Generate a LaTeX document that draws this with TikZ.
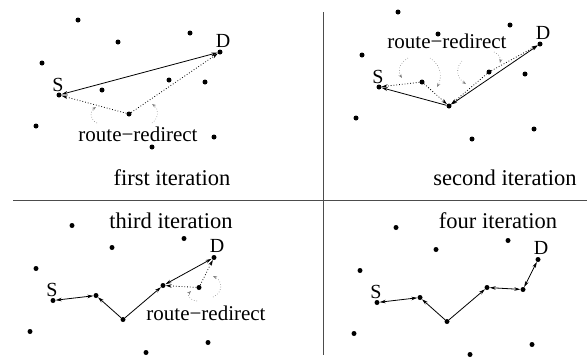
\documentclass[tikz,border=0pt]{standalone}
\usepackage{fontspec}
\setmainfont{Liberation Serif}
\usetikzlibrary{arrows.meta,positioning}

\tikzset{
  >={Stealth[length=6pt,width=3.5pt]},
  dot/.style={circle, fill=black, inner sep=0pt, minimum size=5pt},
  link/.style={line width=0.8pt},
  redir/.style={line width=0.8pt, dotted},
  hint/.style={gray, line width=0.6pt, dotted, -{Stealth[length=4pt,width=3pt]}},
  lbl/.style={inner sep=0pt, anchor=base, font=\fontsize{20}{24}\selectfont},
  ttl/.style={inner sep=0pt, anchor=base, font=\fontsize{22.5}{27}\selectfont},
  rr/.style={inner sep=0pt, anchor=base, font=\fontsize{21}{25}\selectfont}
}

% same node field in every panel
\newcommand{\network}[1]{%
  \foreach \n/\x/\y in {a1/78/20, a2/118/42, a3/190/33, D/220/52, a4/42/63,
      S/59/95, a5/102/90, a6/169/80, a7/205/82, a8/129/114, a9/36/126,
      a10/214/137, a11/152/147}
    \node[dot] (#1-\n) at (\x,\y) {};
  \node[lbl] (#1-St) at ([xshift=-1pt,yshift=4pt]#1-S.center) {S};
  \node[lbl] (#1-Dt) at ([xshift=3pt,yshift=5pt]#1-D.center) {D};
}

\begin{document}
\begin{tikzpicture}[x=1pt,y=-1pt]
\useasboundingbox (0,0) rectangle (587,360);
% separators
\draw[line width=0.8pt, black!70] (13,200) -- (587,200);
\draw[line width=0.8pt, black!70] (323,12) -- (323,355);

% first iteration
\begin{scope}
  \network{p1}
\end{scope}
\draw[link, <->] (p1-S) -- (p1-D);
\draw[redir, ->] (p1-a8) -- (p1-S);
\draw[redir, ->] (p1-a8) -- (p1-D);
\node[rr] (p1-rr) at (138,141.5) {route−redirect};
\draw[hint] (97,123) .. controls (89,119) and (90,111) .. (96,107);
\draw[hint] (152,123) .. controls (159,118) and (159,109) .. (152,104);
\node[ttl] (p1-title) at (172,185) {first iteration};

% second iteration
\begin{scope}[shift={(320,-8)}]
  \network{p2}
\end{scope}
\draw[link, ->] (p2-a8) -- (p2-S);
\draw[link, <->] (p2-a8) -- (p2-D);
\draw[redir, ->] (p2-a5) -- (p2-S);
\draw[redir, ->] (p2-a5) -- (p2-a8);
\draw[redir, ->] (p2-a6) -- (p2-a8);
\draw[redir, ->] (p2-a6) -- (p2-D);
\node[rr] (p2-rr) at (447,48) {route−redirect};
\draw[hint] (408,58) .. controls (398,64) and (398,72) .. (402,78);
\draw[hint] (430,58) .. controls (442,66) and (442,78) .. (437,87);
\draw[hint] (462,61) .. controls (455,68) and (457,78) .. (466,84);
\draw[hint] (494,52) .. controls (499,54) and (501,58) .. (500,63);
\node[ttl] (p2-title) at (505,185) {second iteration};

% third iteration
\begin{scope}[shift={(-6,205.5)}]
  \network{p3}
\end{scope}
\draw[link, <->] (p3-S) -- (p3-a5);
\draw[link, ->] (p3-a8) -- (p3-a5);
\draw[link, ->] (p3-a8) -- (p3-a6);
\draw[link, <->] (p3-a6) -- (p3-D);
\draw[redir, ->] (p3-a7) -- (p3-a6);
\draw[redir, ->] (p3-a7) -- (p3-D);
\node[rr] (p3-rr) at (206,320) {route−redirect};
\draw[hint] (197,301) .. controls (189,300) and (187,295) .. (191,291);
\draw[hint] (213,297) .. controls (223,293) and (223,281) .. (213,276);
\node[ttl] (p3-title) at (171,228) {third iteration};

% four iteration
\begin{scope}[shift={(318,207.5)}]
  \network{p4}
\end{scope}
\draw[link, <->] (p4-S) -- (p4-a5);
\draw[link, ->] (p4-a8) -- (p4-a5);
\draw[link, ->] (p4-a8) -- (p4-a6);
\draw[link, <->] (p4-a6) -- (p4-a7);
\draw[link, <->] (p4-a7) -- (p4-D);
\node[ttl] (p4-title) at (498,228) {four iteration};
\end{tikzpicture}
\end{document}
